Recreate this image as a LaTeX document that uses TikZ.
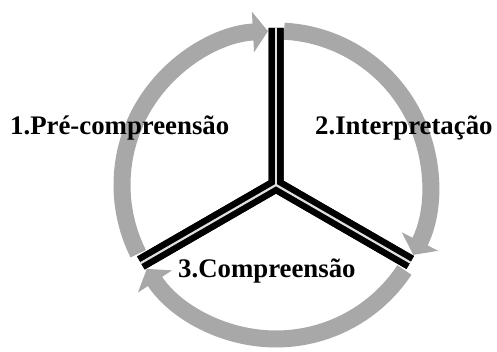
\documentclass[tikz,border=0pt]{standalone}
\usepackage{fontspec}
\setmainfont{Liberation Serif}
\usetikzlibrary{arrows.meta,calc}
\definecolor{bandgray}{RGB}{168,168,168}
\tikzset{
  band/.style={draw=bandgray, line width=17pt, line cap=butt,
    -{Triangle[width=40pt,length=15pt]}},
  spokeblack/.style={draw=black, line width=15pt, line join=miter, line cap=butt},
  spokewhite/.style={draw=white!88!black, line width=2.2pt, line cap=round},
  lbl/.style={font=\fontsize{26.8pt}{30pt}\selectfont\bfseries, anchor=base west, inner sep=0pt}
}
\begin{document}
\begin{tikzpicture}[x=1pt,y=1pt]
\useasboundingbox (0,0) rectangle (497,352);
\coordinate (c) at (276,167);
\coordinate (t) at ($(c)+(90:157)$);
\coordinate (ll) at ($(c)+(210:156)$);
\coordinate (lr) at ($(c)+(330:155)$);
% gray arcs
\draw[band] ($(c)+(206.5:154)$) arc[start angle=206.5, end angle=93, radius=154];
\draw[band] ($(c)+(87:154)$) arc[start angle=87, end angle=-27, radius=154];
\draw[band] ($(c)+(-33.5:154)$) arc[start angle=-33.5, end angle=-147, radius=154];
% spokes
\draw[spokeblack] (t) -- (c) -- (ll);
\draw[spokeblack] (ll) -- (c) -- (lr);
\draw[spokeblack] (lr) -- (c) -- (t);
\draw[spokewhite] (c) -- (t);
\draw[spokewhite] (c) -- (ll);
\draw[spokewhite] (c) -- (lr);
% labels
\node[lbl] (l1) at (10,217) {1.Pré-compreensão};
\node[lbl] (l2) at (315,217) {2.Interpretação};
\node[lbl] (l3) at (178,74) {3.Compreensão};
\end{tikzpicture}
\end{document}
